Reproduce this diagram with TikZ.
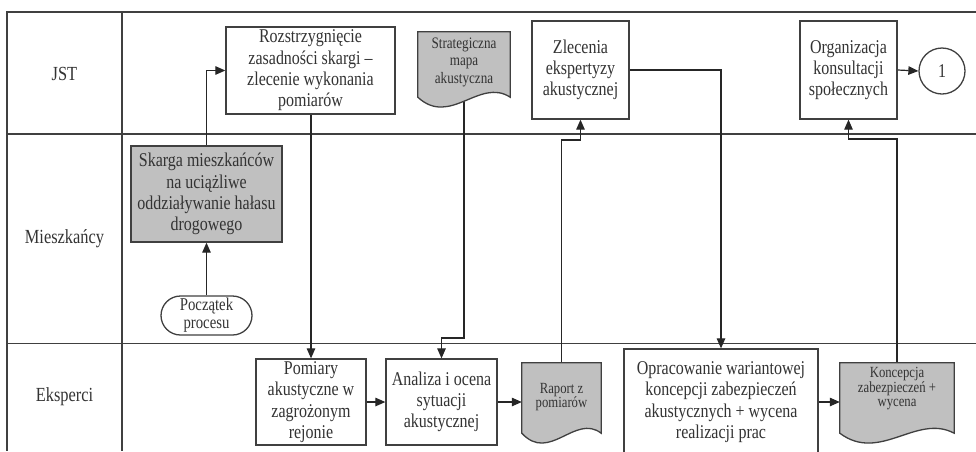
\documentclass[tikz,border=0pt]{standalone}
\usepackage{fontspec}
\setmainfont{Liberation Serif}[FakeStretch=0.82]
\usetikzlibrary{arrows.meta,calc}
\pgfdeclarelayer{background}
\pgfdeclarelayer{conn}
\pgfdeclarelayer{docs}
\pgfsetlayers{background,conn,docs,main}

\definecolor{ink}{HTML}{333333}
\definecolor{edge}{HTML}{404040}
\definecolor{shade}{HTML}{C0C0C0}

\tikzset{
  lane/.style={draw=edge, line width=1.3pt},
  box/.style={draw=edge, line width=1.3pt, fill=white, text=ink, align=center,
    inner sep=0pt, font=\fontsize{19.5}{21.3}\selectfont},
  graybox/.style={box, fill=shade},
  doctext/.style={text=ink, align=center, inner sep=0pt,
    font=\fontsize{15.5}{14.5}\selectfont},
  docshape/.style={draw=edge, line width=1.3pt, fill=shade},
  flow/.style={draw=black!85, line width=1.2pt, -{Triangle[length=10pt,width=8.5pt]}},
  lanelabel/.style={text=ink, font=\fontsize{20}{22}\selectfont}
}

% document symbol behind a text node: #1 node name, #2 drop of the wavy edge below the node
\newcommand{\docoutline}[2]{%
  \begin{pgfonlayer}{docs}
  \path[docshape] (#1.north west) -- (#1.north east) -- ($(#1.south east)+(0,#2)$)
    .. controls ($(#1.south east)!0.33!(#1.south west)+(0,#2-20)$)
       and ($(#1.south west)!0.35!(#1.south east)+(0,#2+30)$) .. ($(#1.south west)+(0,#2)$)
    -- cycle;
  \end{pgfonlayer}}

\begin{document}
\begin{tikzpicture}[x=1pt,y=-1pt]
\useasboundingbox (0,0) rectangle (976,451);
\clip (0,0) rectangle (976,451);

% swimlane grid
\begin{pgfonlayer}{background}
\draw[lane] (976,12) -- (7,12) -- (7,451);
\draw[lane] (122,12) -- (122,451);
\draw[lane] (7,134) -- (976,134);
\draw[lane] (7,343.5) -- (976,343.5);
\end{pgfonlayer}

% lane headers
\node[lanelabel] (ljst) at (64.5,74) {JST};
\node[lanelabel] (lmie) at (64.5,238.5) {Mieszkańcy};
\node[lanelabel] (leks) at (64.5,397) {Eksperci};

% JST lane
\node[box, minimum width=169, minimum height=87] (rozs) at (310.5,70.5)
  {Rozstrzygnięcie\\zasadności skargi –\\zlecenie wykonania\\pomiarów};
\node[doctext, font=\fontsize{16}{17.5}\selectfont, minimum width=92, minimum height=60] (strat) at (464,62)
  {Strategiczna\\mapa\\akustyczna};
\docoutline{strat}{5}
\node[box, minimum width=97, minimum height=98] (zlec) at (580.5,70)
  {Zlecenia\\ekspertyzy\\akustycznej};
\node[box, minimum width=97, minimum height=98] (org) at (848.5,70)
  {Organizacja\\konsultacji\\społecznych};
\node[box, circle, minimum size=46] (one) at (942,71) {1};

% residents lane
\node[graybox, minimum width=151, minimum height=96] (skarga) at (206.5,194)
  {Skarga mieszkańców\\na uciążliwe\\oddziaływanie hałasu\\drogowego};
\node[box, rounded corners=19.5pt, minimum width=91, minimum height=39,
  font=\fontsize{18}{18}\selectfont] (start) at (206.5,315.5) {Początek\\procesu};

% experts lane
\node[box, minimum width=110, minimum height=86] (pom) at (311,402)
  {Pomiary\\akustyczne w\\zagrożonym\\rejonie};
\node[box, minimum width=111, minimum height=86] (anal) at (441.5,402)
  {Analiza i ocena\\sytuacji\\akustycznej};
\node[doctext, minimum width=79, minimum height=68] (raport) at (561.5,397)
  {Raport z\\pomiarów};
\docoutline{raport}{2}
\node[box, minimum width=194, minimum height=106] (oprac) at (721,402)
  {Opracowanie wariantowej\\koncepcji zabezpieczeń\\akustycznych + wycena\\realizacji prac};
\node[doctext, minimum width=114, minimum height=52] (konc) at (897,389)
  {Koncepcja\\zabezpieczeń +\\wycena};
\docoutline{konc}{18}

% bends of the routed connectors
\coordinate (k1) at (441.5,338);
\coordinate (k2) at (580.5,140);
\coordinate (k3) at (848.5,139);

% flow
\begin{pgfonlayer}{conn}
\draw[flow] (start) -- (skarga);
\draw[flow] (skarga.north) |- (rozs.west);
\draw[flow] (pom.north |- rozs.south) -- (pom.north);
\draw[flow] (strat.center) |- (k1) -- (anal.north);
\draw[flow] (pom.east) -- (anal.west);
\draw[flow] (anal.east) -- (anal.east -| raport.west);
\draw[flow] (raport.north) |- (k2) -- (zlec.south);
\draw[flow] (zlec.east) -| (oprac.north);
\draw[flow] (oprac.east) -- (oprac.east -| konc.west);
\draw[flow] (konc.north) |- (k3) -- (org.south);
\draw[flow] (org.east) -- (one.west);
\end{pgfonlayer}
\end{tikzpicture}
\end{document}
